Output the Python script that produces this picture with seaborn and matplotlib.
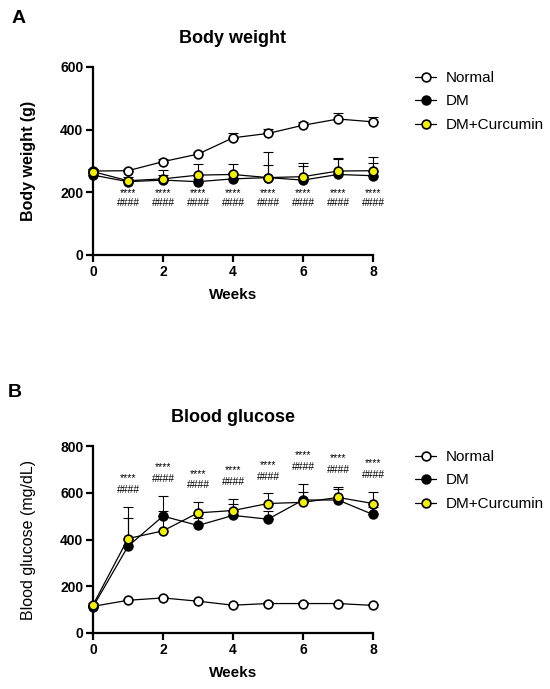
import numpy as np
import pandas as pd
import matplotlib
matplotlib.use("Agg")
import matplotlib.pyplot as plt
import seaborn as sns

# data (mean and upper SD per week)
weeks = [0, 1, 2, 3, 4, 5, 6, 7, 8]
groups = ["Normal", "DM", "DM+Curcumin"]

normal_bw = [268, 269, 298, 322, 374, 388, 414, 434, 425]
normal_bw_sd = [6, 7, 8, 8, 16, 15, 12, 18, 16]
dm_bw = [255, 234, 239, 234, 243, 247, 239, 257, 253]
dm_bw_sd = [6, 10, 15, 10, 20, 83, 45, 49, 42]
dmc_bw = [266, 237, 243, 255, 257, 247, 250, 268, 269]
dmc_bw_sd = [8, 12, 28, 34, 33, 39, 43, 43, 43]

normal_bg = [114, 140, 150, 136, 119, 126, 126, 126, 118]
normal_bg_sd = [4, 5, 5, 5, 5, 5, 5, 4, 4]
dm_bg = [112, 371, 500, 460, 503, 487, 569, 569, 507]
dm_bg_sd = [8, 120, 87, 30, 51, 35, 70, 45, 30]
dmc_bg = [120, 404, 437, 514, 524, 554, 559, 580, 554]
dmc_bg_sd = [8, 136, 86, 47, 50, 43, 45, 46, 50]

stars = "****"
hashes = "####"

sns.set_theme(style="ticks")
plt.rcParams["font.family"] = ["Liberation Sans", "DejaVu Sans"]
plt.rcParams["text.color"] = "black"
plt.rcParams["axes.labelcolor"] = "black"
plt.rcParams["xtick.color"] = "black"
plt.rcParams["ytick.color"] = "black"
plt.rcParams["axes.edgecolor"] = "black"

face = {"Normal": "white", "DM": "black", "DM+Curcumin": "#f2f200"}


def draw_panel(ax, means, sds, ylim, yticks, ylabel, ylabel_weight, title):
    for g, m, s in zip(groups, means, sds):
        ax.errorbar(weeks, m, yerr=[np.zeros(len(s)), s], fmt="none",
                    ecolor="black", elinewidth=0.8, capsize=3.5, capthick=0.8,
                    zorder=2, clip_on=False)
    for g, m in zip(groups, means):
        df = pd.DataFrame({"Weeks": weeks, "value": m})
        sns.lineplot(data=df, x="Weeks", y="value", ax=ax, color="black",
                     linewidth=0.9, marker="o", markersize=6.3,
                     markerfacecolor=face[g], markeredgecolor="black",
                     markeredgewidth=1.2, label=g, zorder=3, clip_on=False)
    ax.set_xlim(0, 8)
    ax.set_ylim(*ylim)
    ax.set_xticks([0, 2, 4, 6, 8])
    ax.set_yticks(yticks)
    for sp in ["top", "right"]:
        ax.spines[sp].set_visible(False)
    for sp in ["left", "bottom"]:
        ax.spines[sp].set_linewidth(1.6)
    ax.tick_params(width=1.6, length=5, labelsize=10, pad=2)
    for lab in ax.get_xticklabels() + ax.get_yticklabels():
        lab.set_fontweight("bold")
    ax.set_xlabel("Weeks", fontsize=11, fontweight="bold", labelpad=7)
    ax.set_ylabel(ylabel, fontsize=11.5, fontweight=ylabel_weight, labelpad=17)
    ax.set_title(title, fontsize=13, fontweight="bold", pad=17)


fig = plt.figure(figsize=(5.5, 6.89), dpi=100)
ax1 = fig.add_axes([93 / 550, 1 - 255 / 689, 280 / 550, 188 / 689])
ax2 = fig.add_axes([93 / 550, 1 - 633 / 689, 280 / 550, 187 / 689])

draw_panel(ax1, [normal_bw, dm_bw, dmc_bw], [normal_bw_sd, dm_bw_sd, dmc_bw_sd],
           (0, 600), [0, 200, 400, 600], "Body weight (g)", "bold", "Body weight")
draw_panel(ax2, [normal_bg, dm_bg, dmc_bg], [normal_bg_sd, dm_bg_sd, dmc_bg_sd],
           (0, 800), [0, 200, 400, 600, 800], "Blood glucose (mg/dL)", "medium",
           "Blood glucose")

# significance marks: under the curves for body weight, above the bars for glucose
for w in weeks[1:]:
    ax1.text(w, 199, stars, ha="center", va="center", fontsize=7.5)
    ax1.text(w, 165, hashes, ha="center", va="center", fontsize=7.5)
    top = max(dm_bg[w] + dm_bg_sd[w], dmc_bg[w] + dmc_bg_sd[w])
    ax2.text(w, top + 121, stars, ha="center", va="center", fontsize=7.5)
    ax2.text(w, top + 72, hashes, ha="center", va="center", fontsize=7.5)

for ax, ytop in [(ax1, 71), (ax2, 450)]:
    ax.legend(loc="upper left", bbox_to_anchor=(415 / 550, 1 - ytop / 689),
              bbox_transform=fig.transFigure, frameon=False, fontsize=11,
              handlelength=1.4, handletextpad=0.6, labelspacing=0.62,
              borderpad=0, borderaxespad=0)

fig.text(12 / 550, 1 - 23 / 689, "A", fontsize=14, fontweight="bold")
fig.text(8 / 550, 1 - 397 / 689, "B", fontsize=14, fontweight="bold")

fig.savefig("out.png", dpi=100)
